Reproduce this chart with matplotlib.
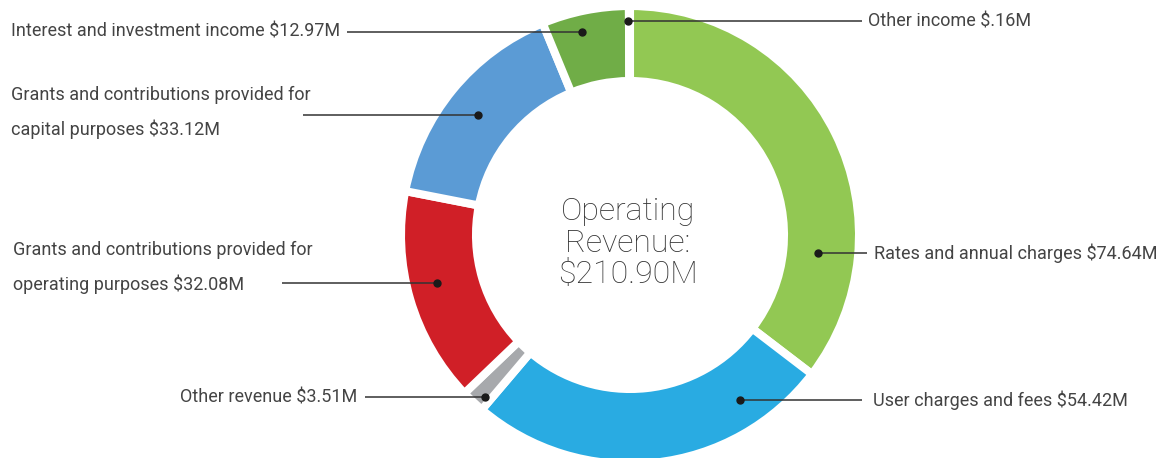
import matplotlib.pyplot as plt

# revenue categories (clockwise from top)
categories = ["Rates and annual charges", "User charges and fees", "Other revenue",
              "Grants and contributions provided for\noperating purposes",
              "Grants and contributions provided for\ncapital purposes",
              "Interest and investment income", "Other income"]
values = [74.64, 54.42, 3.51, 32.08, 33.12, 12.97, 0.16]
value_labels = ["$74.64M", "$54.42M", "$3.51M", "$32.08M", "$33.12M", "$12.97M", "$.16M"]
colors = ["#92C853", "#29ABE2", "#A7A9AC", "#D01F27", "#5B9BD5", "#70AD47", "#70AD47"]
total_label = "$210.90M"

W, H = 1159, 458
plt.rcParams['font.family'] = ['Roboto', 'DejaVu Sans']

fig = plt.figure(figsize=(W / 100, H / 100), dpi=100)
ax = fig.add_axes([0, 0, 1, 1])


def py(y):
    # pixel row -> data y
    return H - y


cx, cy = 630, py(235)
ax.pie(values, colors=colors, startangle=90, counterclock=False,
       center=(cx, cy), radius=229, frame=True,
       wedgeprops=dict(width=75, edgecolor='white', linewidth=5.8))
ax.set_xlim(0, W)
ax.set_ylim(0, H)
ax.set_aspect('equal')
ax.axis('off')

ax.text(cx - 2, py(243), "Operating\nRevenue:\n" + total_label, ha='center', va='center',
        fontsize=23, color='#333333', linespacing=1.1, fontweight='light')

# leader lines: (dot x, dot y, line end x, label side)
leaders = [
    (818, 253, 867, 'right'),
    (740, 400, 862, 'right'),
    (485, 397, 365, 'left'),
    (437, 283, 282, 'left'),
    (478, 115, 303, 'left'),
    (582, 32, 347, 'left'),
    (628, 21, 862, 'right'),
]
text_pos = [
    (874, 253), (873, 400), (357, 397), (13, 267), (11, 112), (340, 32), (868, 21),
]

for i, (dx, dy, lx, side) in enumerate(leaders):
    ax.plot([dx, lx], [py(dy), py(dy)], color='#333333', lw=1.1, solid_capstyle='butt')
    ax.plot(dx, py(dy), 'o', color='#1a1a1a', ms=5)
    tx, ty = text_pos[i]
    lab = categories[i] + " " + value_labels[i]
    ha = 'left' if (side == 'right' or '\n' in lab) else 'right'
    ax.text(tx, py(ty), lab, ha=ha, va='center', fontsize=13, color='#444444',
            linespacing=2.0)

fig.savefig("out.png", dpi=100)
